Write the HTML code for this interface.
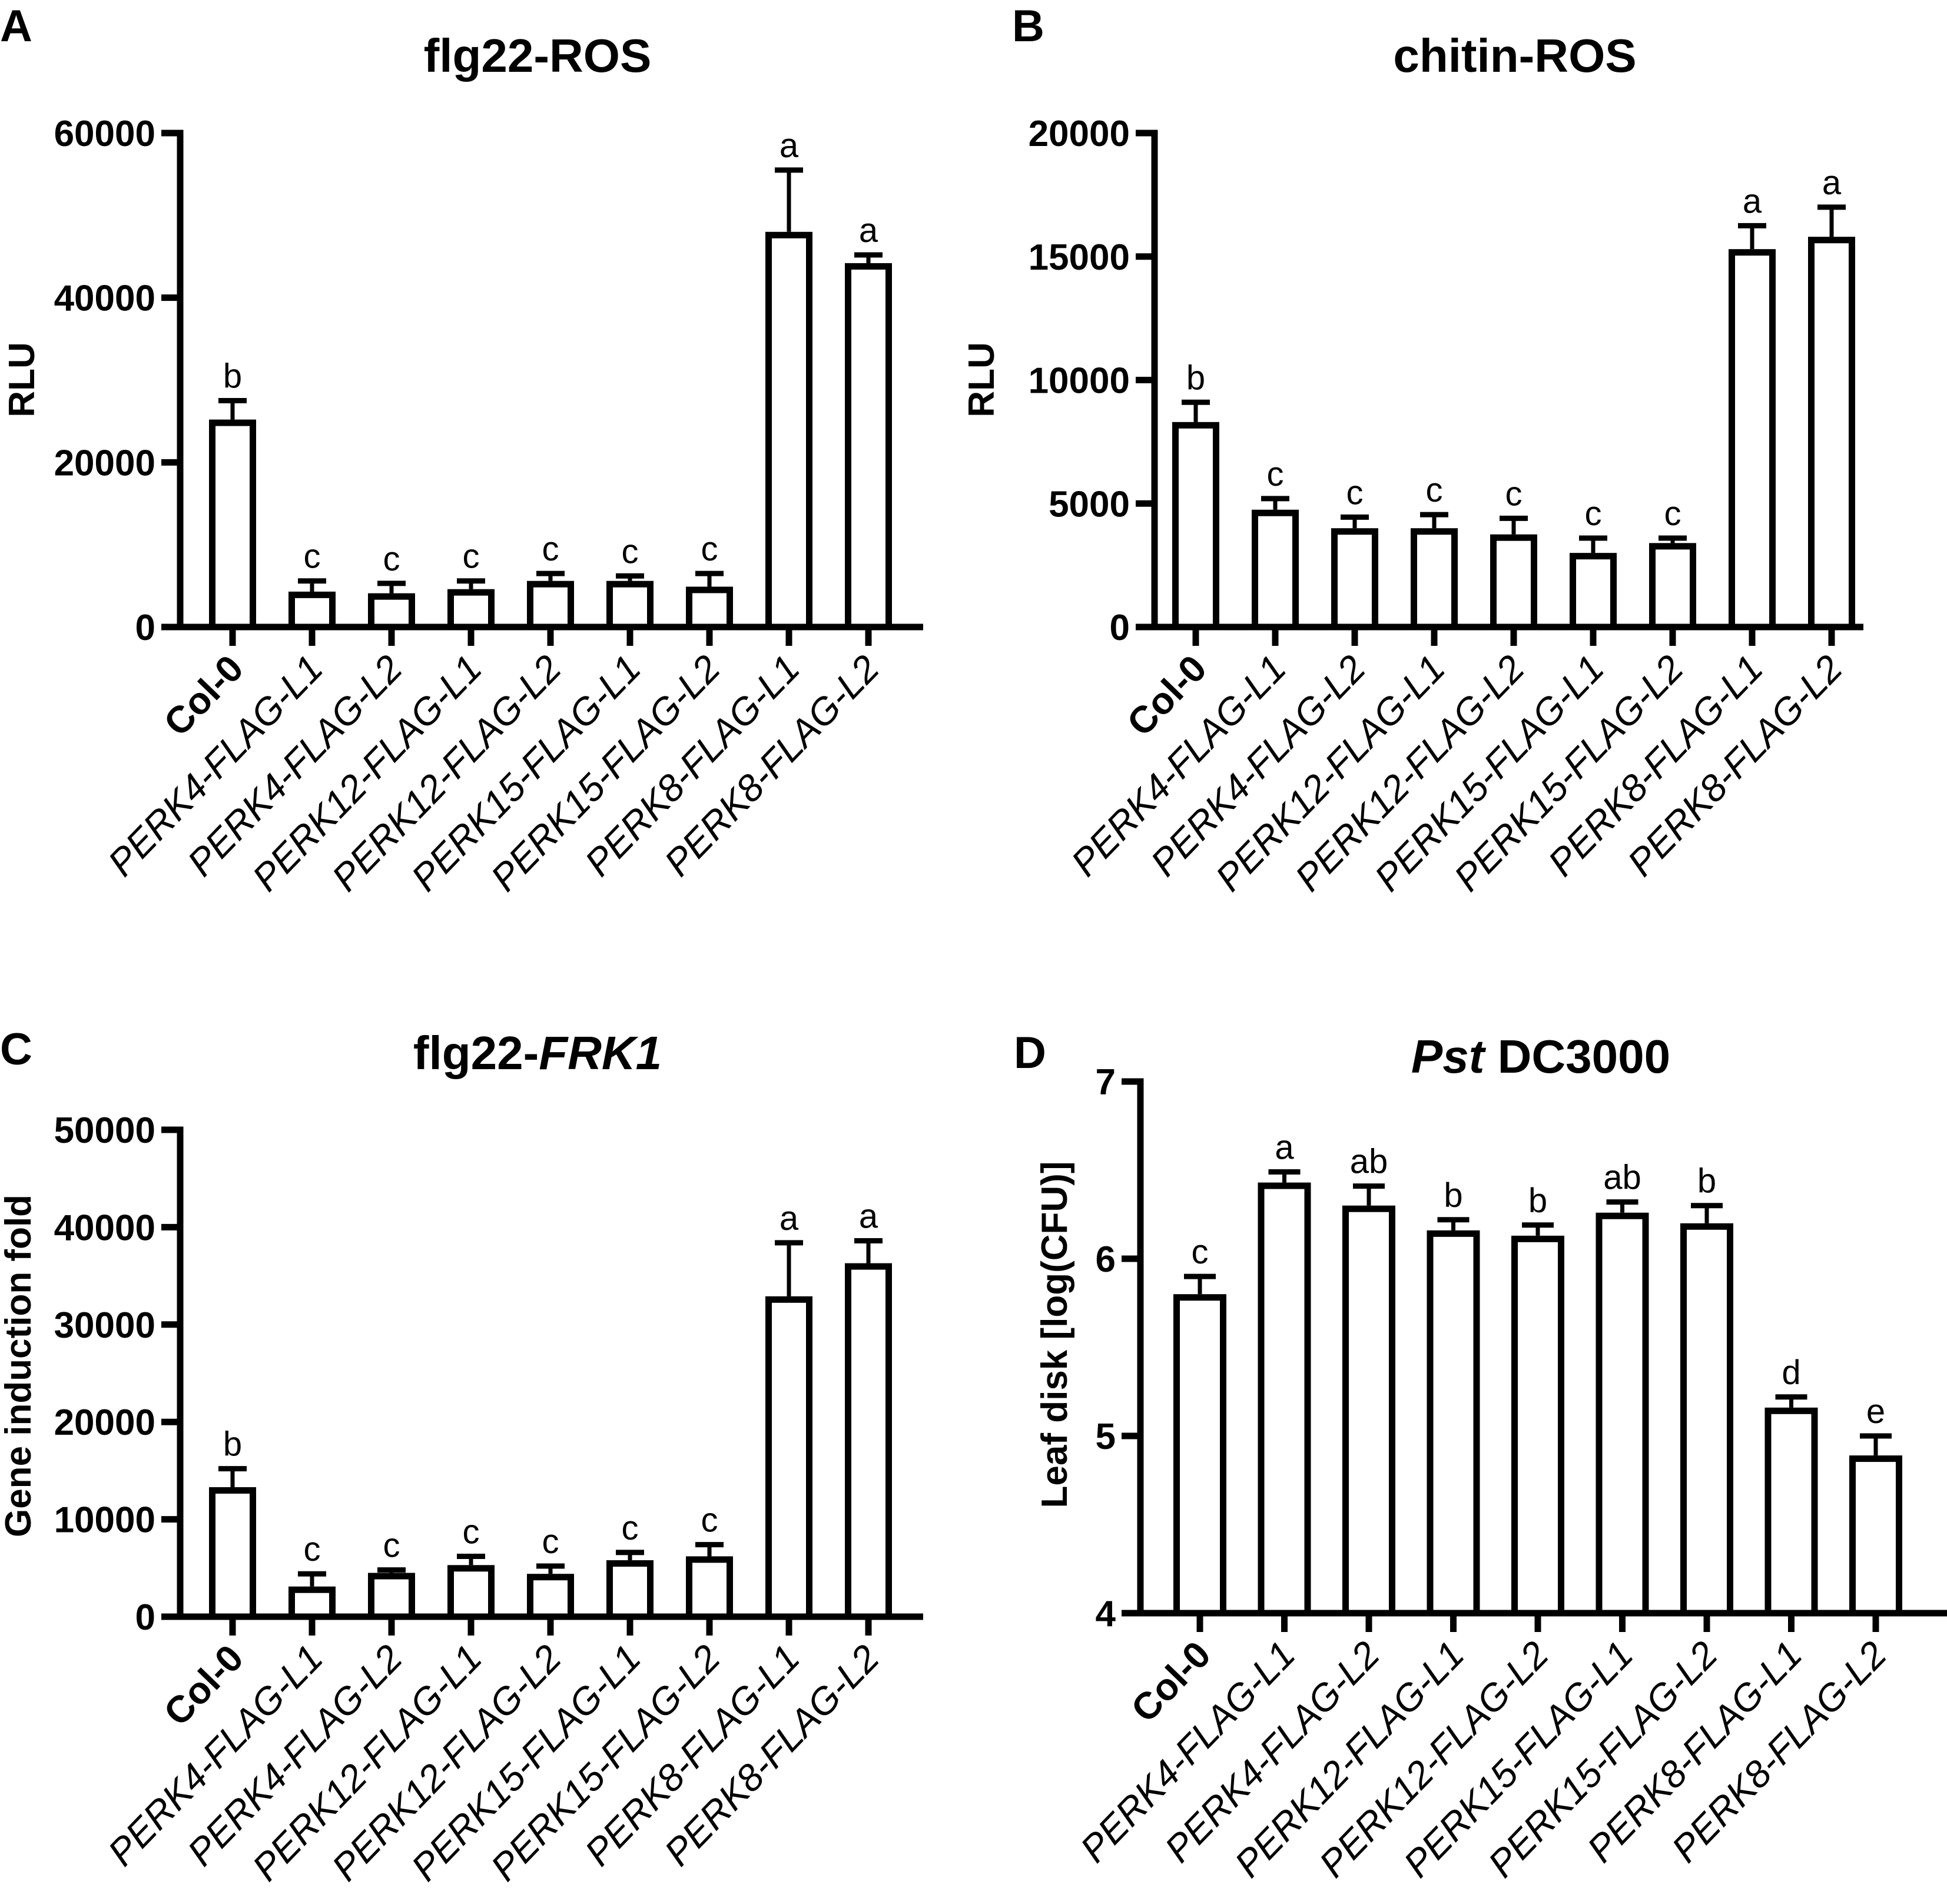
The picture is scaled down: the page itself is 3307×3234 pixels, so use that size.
<!DOCTYPE html>
<html><head><meta charset="utf-8"><style>
html,body{margin:0;padding:0;background:#fff}
svg{display:block}
text{font-family:"Liberation Sans",Arial,sans-serif;fill:#000}
</style></head><body>
<svg id="fig" width="3307" height="3234" viewBox="0 0 3307 3234" xmlns="http://www.w3.org/2000/svg"></svg>
<script>
const categories = ["Col-0","PERK4-FLAG-L1","PERK4-FLAG-L2","PERK12-FLAG-L1","PERK12-FLAG-L2","PERK15-FLAG-L1","PERK15-FLAG-L2","PERK8-FLAG-L1","PERK8-FLAG-L2"];
const aValues = [25200,4300,4100,4600,5600,5600,4900,48000,44200];
const aErrors = [2300,1300,1200,1000,900,600,1600,7500,1000];
const aLetters = ["b","c","c","c","c","c","c","a","a"];
const aTicks = [0,20000,40000,60000];
const bValues = [8300,4750,4000,4000,3750,3000,3400,15300,15800];
const bErrors = [800,450,450,550,650,600,200,950,1200];
const bLetters = ["b","c","c","c","c","c","c","a","a"];
const bTicks = [0,5000,10000,15000,20000];
const cValues = [13300,3100,4500,5300,4400,5800,6200,32900,36300];
const cErrors = [1900,1300,300,900,800,800,1200,5500,2300];
const cLetters = ["b","c","c","c","c","c","c","a","a"];
const cTicks = [0,10000,20000,30000,40000,50000];
const dValues = [5.80,6.43,6.30,6.16,6.13,6.26,6.20,5.16,4.89];
const dErrors = [0.10,0.06,0.11,0.06,0.06,0.06,0.10,0.06,0.11];
const dLetters = ["c","a","ab","b","b","ab","b","d","e"];
const dTicks = [4,5,6,7];

const NS="http://www.w3.org/2000/svg";
const svg=document.getElementById('fig');
function mk(tag,attrs,parent){const e=document.createElementNS(NS,tag);for(const k in attrs)e.setAttribute(k,attrs[k]);(parent||svg).appendChild(e);return e;}

function panel(cfg){
  const g=mk('g',{});
  
  
  const {ax,y0,y1,vmin,vmax,x0,dx,bw,xend}=cfg;
  const sy=v=>y0-(v-vmin)/(vmax-vmin)*(y0-y1);
  const sx=i=>x0+dx*i;
  const SW=11;
  const pl=mk('text',{x:cfg.plx,y:cfg.ply,'font-size':76,'font-weight':'bold'},g);pl.textContent=cfg.letter;
  
  
  const t=mk('text',{x:cfg.tx,y:cfg.ty,'font-size':80,'font-weight':'bold','text-anchor':'middle'},g);
  t.innerHTML=cfg.title;
  
  
  const ya=mk('line',{x1:ax,y1:sy(vmax)-SW/2,x2:ax,y2:y0+SW/2,stroke:'#000','stroke-width':SW},g);
  
  
  cfg.ticks.forEach(v=>{
    const y=sy(v);
    mk('line',{x1:ax-32,y1:y,x2:ax,y2:y,stroke:'#000','stroke-width':SW},g);
    const tl=mk('text',{x:ax-42,y:y+22,'font-size':62,'font-weight':'bold','text-anchor':'end'},g);
    tl.textContent=v;
    
    
  });
  const yt=mk('text',{x:0,y:0,'font-size':62,'font-weight':'bold','text-anchor':'middle',transform:`translate(${cfg.ytx},${cfg.yty}) rotate(-90)`},g);
  yt.textContent=cfg.ytitle;
  
  
  const xa=mk('line',{x1:ax-32,y1:y0,x2:xend,y2:y0,stroke:'#000','stroke-width':SW},g);
  
  
  categories.forEach((c,i)=>{
    const cx=sx(i);
    const v=cfg.values[i],e=cfg.errors[i];
    const top=sy(v);
    mk('line',{x1:cx,y1:top,x2:cx,y2:sy(v+e),stroke:'#000','stroke-width':7},g);
    mk('line',{x1:cx-bw*0.3,y1:sy(v+e),x2:cx+bw*0.3,y2:sy(v+e),stroke:'#000','stroke-width':9},g);
    const r=mk('rect',{x:cx-bw/2+SW/2,y:top+SW/2,width:bw-SW,height:y0-top-SW/2,fill:'#fff',stroke:'#000','stroke-width':SW},g);
    
    
    const lt=mk('text',{x:cx,y:sy(v+e)-22,'font-size':58,'text-anchor':'middle'},g);
    lt.textContent=cfg.letters[i];
    
    
    mk('line',{x1:cx,y1:y0,x2:cx,y2:y0+32,stroke:'#000','stroke-width':SW},g);
    const xl=mk('text',{x:0,y:0,'font-size':64,'text-anchor':'end','font-weight':i===0?'bold':'normal','font-style':i===0?'normal':'italic',transform:`translate(${cx+22},${y0+74}) rotate(-46)`},g);
    xl.textContent=c;
    
    
  });
}
panel({name:'panel-a-flg22-ros',letter:'A',plx:0,ply:70,title:'flg22-ROS',tx:913,ty:122,ax:306,y0:1065,y1:226,vmin:0,vmax:60000,x0:395,dx:135,bw:80,xend:1568,ticks:aTicks,values:aValues,errors:aErrors,letters:aLetters,ytitle:'RLU',ytx:58,yty:645});
panel({name:'panel-b-chitin-ros',letter:'B',plx:1719,ply:70,title:'chitin-ROS',tx:2573,ty:122,ax:1961,y0:1065,y1:226,vmin:0,vmax:20000,x0:2031,dx:135,bw:80,xend:3165,ticks:bTicks,values:bValues,errors:bErrors,letters:bLetters,ytitle:'RLU',ytx:1688,yty:645});
panel({name:'panel-c-flg22-frk1',letter:'C',plx:0,ply:1808,title:'flg22-<tspan font-style="italic">FRK1</tspan>',tx:913,ty:1816,ax:306,y0:2746,y1:1919,vmin:0,vmax:50000,x0:395,dx:135,bw:80,xend:1568,ticks:cTicks,values:cValues,errors:cErrors,letters:cLetters,ytitle:'Gene induction fold',ytx:52,yty:2320});
panel({name:'panel-d-pst-dc3000',letter:'D',plx:1722,ply:1814,title:'<tspan font-style="italic">Pst</tspan> DC3000',tx:2617,ty:1822,ax:1937,y0:2740,y1:1837,vmin:4,vmax:7,x0:2038,dx:143.5,bw:90,xend:3307,ticks:dTicks,values:dValues,errors:dErrors,letters:dLetters,ytitle:'Leaf disk [log(CFU)]',ytx:1812,yty:2267});
</script>
</body></html>
